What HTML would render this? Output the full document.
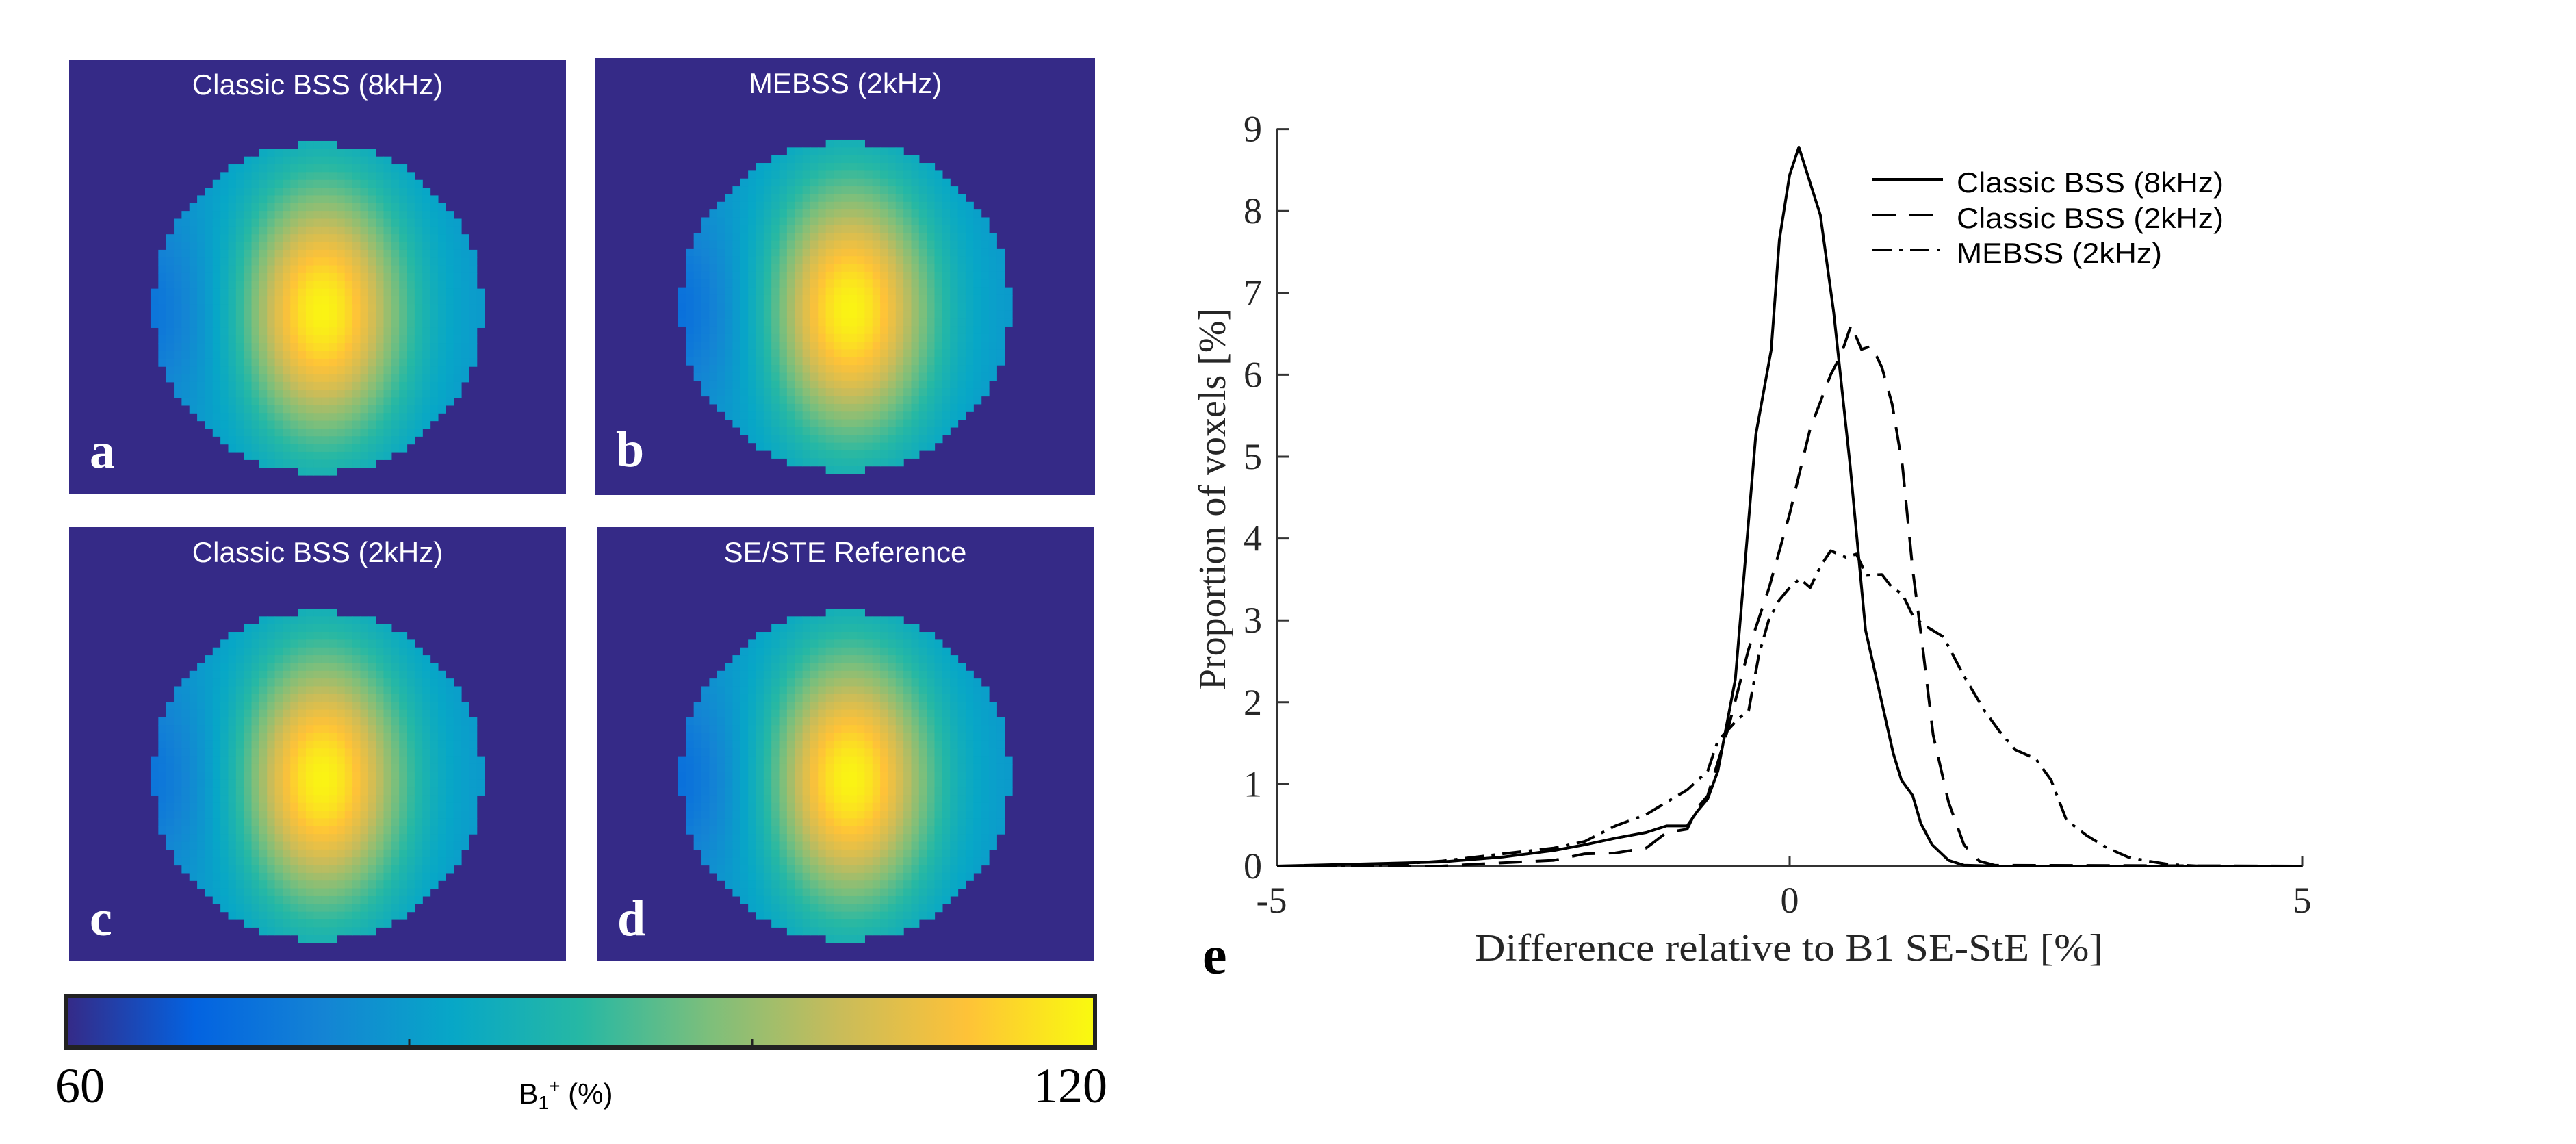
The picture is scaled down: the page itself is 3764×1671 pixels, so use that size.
<!DOCTYPE html>
<html><head><meta charset="utf-8"><style>
html,body{margin:0;padding:0;background:#fff;}
svg{display:block;}
</style></head><body>
<svg id="fig" xmlns="http://www.w3.org/2000/svg" width="3764" height="1671" viewBox="0 0 3764 1671">
<defs>
<linearGradient id="parula" x1="0" x2="1" y1="0" y2="0">
<stop offset="0" stop-color="rgb(53,42,135)"/>
<stop offset="0.125" stop-color="rgb(3,99,225)"/>
<stop offset="0.25" stop-color="rgb(20,132,212)"/>
<stop offset="0.375" stop-color="rgb(7,167,199)"/>
<stop offset="0.5" stop-color="rgb(38,184,164)"/>
<stop offset="0.625" stop-color="rgb(125,191,123)"/>
<stop offset="0.75" stop-color="rgb(200,188,90)"/>
<stop offset="0.875" stop-color="rgb(254,194,56)"/>
<stop offset="1" stop-color="rgb(249,251,14)"/>
</linearGradient>
</defs>
<g id="maps"></g>
<g id="cbar">
<rect x="97" y="1455" width="1503" height="75" fill="url(#parula)" stroke="#222" stroke-width="6"/>
<line x1="598" y1="1530" x2="598" y2="1518" stroke="#222" stroke-width="3"/>
<line x1="1099" y1="1530" x2="1099" y2="1518" stroke="#222" stroke-width="3"/>
<text x="117" y="1610" text-anchor="middle" font-family="Liberation Serif, serif" font-size="72" fill="#000">60</text>
<text x="1618" y="1610" text-anchor="end" font-family="Liberation Serif, serif" font-size="72" fill="#000">120</text>
<text x="827" y="1612" text-anchor="middle" font-family="Liberation Sans, sans-serif" font-size="42" fill="#000">B<tspan font-size="28" dy="8">1</tspan><tspan font-size="28" dy="-24">+</tspan><tspan dy="16"> (%)</tspan></text>
</g>
<g id="chart"></g>
</svg>
<script>
// ---- chart data ----
const xTicks = [-5, 0, 5];
const yTicks = [0, 1, 2, 3, 4, 5, 6, 7, 8, 9];
const seriesNames = ["Classic BSS (8kHz)", "Classic BSS (2kHz)", "MEBSS (2kHz)"];
const classic8X = [-5,-3.4,-2.8,-2.3,-2.0,-1.7,-1.4,-1.2,-1.0,-0.9,-0.8,-0.7,-0.53,-0.33,-0.18,-0.1,0,0.09,0.3,0.43,0.59,0.74,0.89,1.01,1.09,1.2,1.28,1.39,1.55,1.7,2.0,5];
const classic8Y = [0,0.05,0.11,0.19,0.26,0.34,0.41,0.49,0.49,0.67,0.82,1.16,2.28,5.27,6.3,7.65,8.44,8.78,7.95,6.76,4.89,2.88,2.05,1.38,1.05,0.86,0.52,0.26,0.07,0.01,0,0];
const classic2X = [-5,-3.4,-2.8,-2.3,-2.0,-1.7,-1.4,-1.2,-1.0,-0.9,-0.8,-0.6,-0.4,-0.2,0,0.2,0.4,0.5,0.6,0.7,0.8,0.9,1.0,1.1,1.2,1.3,1.4,1.55,1.7,1.85,2.0,5];
const classic2Y = [0,0,0.04,0.07,0.15,0.16,0.22,0.41,0.45,0.71,0.86,1.68,2.65,3.4,4.3,5.34,6.0,6.24,6.61,6.31,6.35,6.09,5.64,4.89,3.62,2.65,1.6,0.78,0.26,0.06,0.01,0];
const mebssX = [-5,-4,-3.4,-2.8,-2.3,-2.0,-1.7,-1.4,-1.2,-1.0,-0.8,-0.7,-0.5,-0.4,-0.3,-0.2,-0.1,0,0.1,0.2,0.3,0.4,0.55,0.65,0.75,0.9,1.0,1.1,1.2,1.3,1.5,1.7,1.9,2.05,2.2,2.4,2.55,2.7,2.9,3.1,3.3,3.5,3.7,4,5];
const mebssY = [0,0.01,0.06,0.15,0.22,0.3,0.49,0.63,0.78,0.93,1.16,1.53,1.8,1.9,2.58,3.02,3.25,3.4,3.51,3.4,3.66,3.85,3.77,3.81,3.55,3.56,3.4,3.32,3.06,2.95,2.8,2.32,1.9,1.64,1.42,1.31,1.05,0.56,0.37,0.22,0.11,0.06,0.02,0,0];

const NS = "http://www.w3.org/2000/svg";
function mk(tag, attrs, parent){ const e=document.createElementNS(NS,tag); for(const k in attrs) e.setAttribute(k,attrs[k]); parent.appendChild(e); return e; }

// axis functions
const X0=1866, X1=3364, Y0=1265, YU=119.6;
function xs(v){ return X0 + (v - xTicks[0]) / (xTicks[xTicks.length-1]-xTicks[0]) * (X1-X0); }
function ys(v){ return Y0 - v*YU; }

const chart = document.getElementById('chart');
const serif = "Liberation Serif, serif";
let ax = mk('line',{x1:X0,y1:ys(9)-1,x2:X0,y2:Y0,stroke:'#333','stroke-width':3},chart);


let bx = mk('line',{x1:X0,y1:Y0,x2:X1+1,y2:Y0,stroke:'#333','stroke-width':3},chart);


yTicks.forEach(t=>{
  const l = mk('line',{x1:X0,y1:ys(t),x2:X0+17,y2:ys(t),stroke:'#333','stroke-width':3},chart);
  
  
  const tx = mk('text',{x:X0-22,y:ys(t)+18,'text-anchor':'end','font-family':serif,'font-size':54,fill:'#262626'},chart);
  
  
  tx.textContent = String(t);
});
xTicks.forEach(t=>{
  const l = mk('line',{x1:xs(t),y1:Y0,x2:xs(t),y2:Y0-14,stroke:'#333','stroke-width':3},chart);
  
  
  const tx = mk('text',{x:xs(t)-(t<0?8:0),y:Y0+68,'text-anchor':'middle','font-family':serif,'font-size':54,fill:'#262626'},chart);
  
  
  tx.textContent = String(t);
});
let xl = mk('text',{x:2614,y:1403,'text-anchor':'middle','font-family':serif,'font-size':56,fill:'#262626',textLength:918,lengthAdjust:'spacingAndGlyphs'},chart);


xl.textContent = 'Difference relative to B1 SE-StE [%]';
let yl = mk('text',{x:0,y:0,'text-anchor':'middle','font-family':serif,'font-size':56,fill:'#262626',transform:'translate(1790,729) rotate(-90)'},chart);


yl.textContent = 'Proportion of voxels [%]';
let el = mk('text',{x:1757,y:1422,'font-family':serif,'font-size':80,'font-weight':'bold',fill:'#000'},chart);


el.textContent = 'e';

const dashes = ['', '34 20', '28 11 5 11'];
const seriesX = [classic8X, classic2X, mebssX];
const seriesY = [classic8Y, classic2Y, mebssY];
const seriesKeys = ['classic-8khz','classic-2khz','mebss-2khz'];
for(let s=0;s<3;s++){
  let d='';
  seriesX[s].forEach((v,i)=>{ d += (i?'L':'M') + xs(v).toFixed(1)+' '+ys(seriesY[s][i]).toFixed(1); });
  const p = mk('path',{d:d,fill:'none',stroke:'#000','stroke-width':4,'stroke-linejoin':'round'},chart);
  if(dashes[s]) p.setAttribute('stroke-dasharray',dashes[s]);
  
  
  const ly = [262,314,365][s];
  const ll = mk('line',{x1:2736,y1:ly,x2:2839,y2:ly,stroke:'#000','stroke-width':4},chart);
  if(dashes[s]) ll.setAttribute('stroke-dasharray',dashes[s]);
  
  
  const lt = mk('text',{x:2859,y:ly+19,'font-family':'Liberation Sans, sans-serif','font-size':42,fill:'#000'},chart);
  lt.setAttribute('textLength', s<2 ? 390 : 300);
  lt.setAttribute('lengthAdjust','spacingAndGlyphs');
  
  
  lt.textContent = seriesNames[s];
}

// ---- B1 maps ----
const panelTitles = ['Classic BSS (8kHz)','MEBSS (2kHz)','Classic BSS (2kHz)','SE/STE Reference'];
const panelLetters = ['a','b','c','d'];
const panelX = [101, 870, 101, 872];
const panelY = [87, 85, 770, 770];
const panelW = [726, 730, 726, 726];
const panelH = [635, 638, 633, 633];
const stops = [[53,42,135],[3,99,225],[20,132,212],[7,167,199],[38,184,164],[125,191,123],[200,188,90],[254,194,56],[249,251,14]];
function parula(t){ t=Math.max(0,Math.min(1,t)); const f=t*8, i=Math.min(7,Math.floor(f)), r=f-i;
  const a=stops[i], b=stops[i+1]; return 'rgb('+a.map((c,k)=>Math.round(c+(b[k]-c)*r)).join(',')+')'; }
const maps = document.getElementById('maps');
const bs = 11.35;
for(let p=0;p<4;p++){
  const g = mk('g',{},maps);
  
  
  const bg = mk('rect',{x:panelX[p],y:panelY[p],width:panelW[p],height:panelH[p],fill:'#352a87'},g);
  
  
  const cx = panelX[p]+panelW[p]/2, cy = panelY[p]+363;
  const leftK = (p%2===1)?9:8;
  for(let j=-22;j<=22;j++){
    for(let i=-22;i<=22;i++){
      const dx=(i)/21.2, dy=(j)/21.2;
      const inside = dx*dx+dy*dy<=1 || (i===0 && j===21);
      if(!inside) continue;
      const ex = dx-0.03, ey = dy-0.02;
      const base = ex<0 ? 79 - leftK*Math.min(1,-ex)*Math.exp(-ey*ey*3) : 79;
      const r2 = (ex/0.5)*(ex/0.5) + (ey/0.78)*(ey/0.78);
      const v = base + (119-base)*Math.exp(-r2);
      mk('rect',{x:(cx+(i-0.5)*bs).toFixed(2),y:(cy+(j-0.5)*bs).toFixed(2),width:bs+0.6,height:bs+0.6,fill:parula((v-60)/60)},g);
    }
  }
  const t = mk('text',{x:cx,y:panelY[p]+51,'text-anchor':'middle','font-family':'Liberation Sans, sans-serif','font-size':42,fill:'#fff'},g);
  
  
  t.textContent = panelTitles[p];
  const l = mk('text',{x:panelX[p]+30,y:panelY[p]+596,'font-family':serif,'font-size':74,'font-weight':'bold',fill:'#fff'},g);
  
  
  l.textContent = panelLetters[p];
}
</script>
</body></html>
